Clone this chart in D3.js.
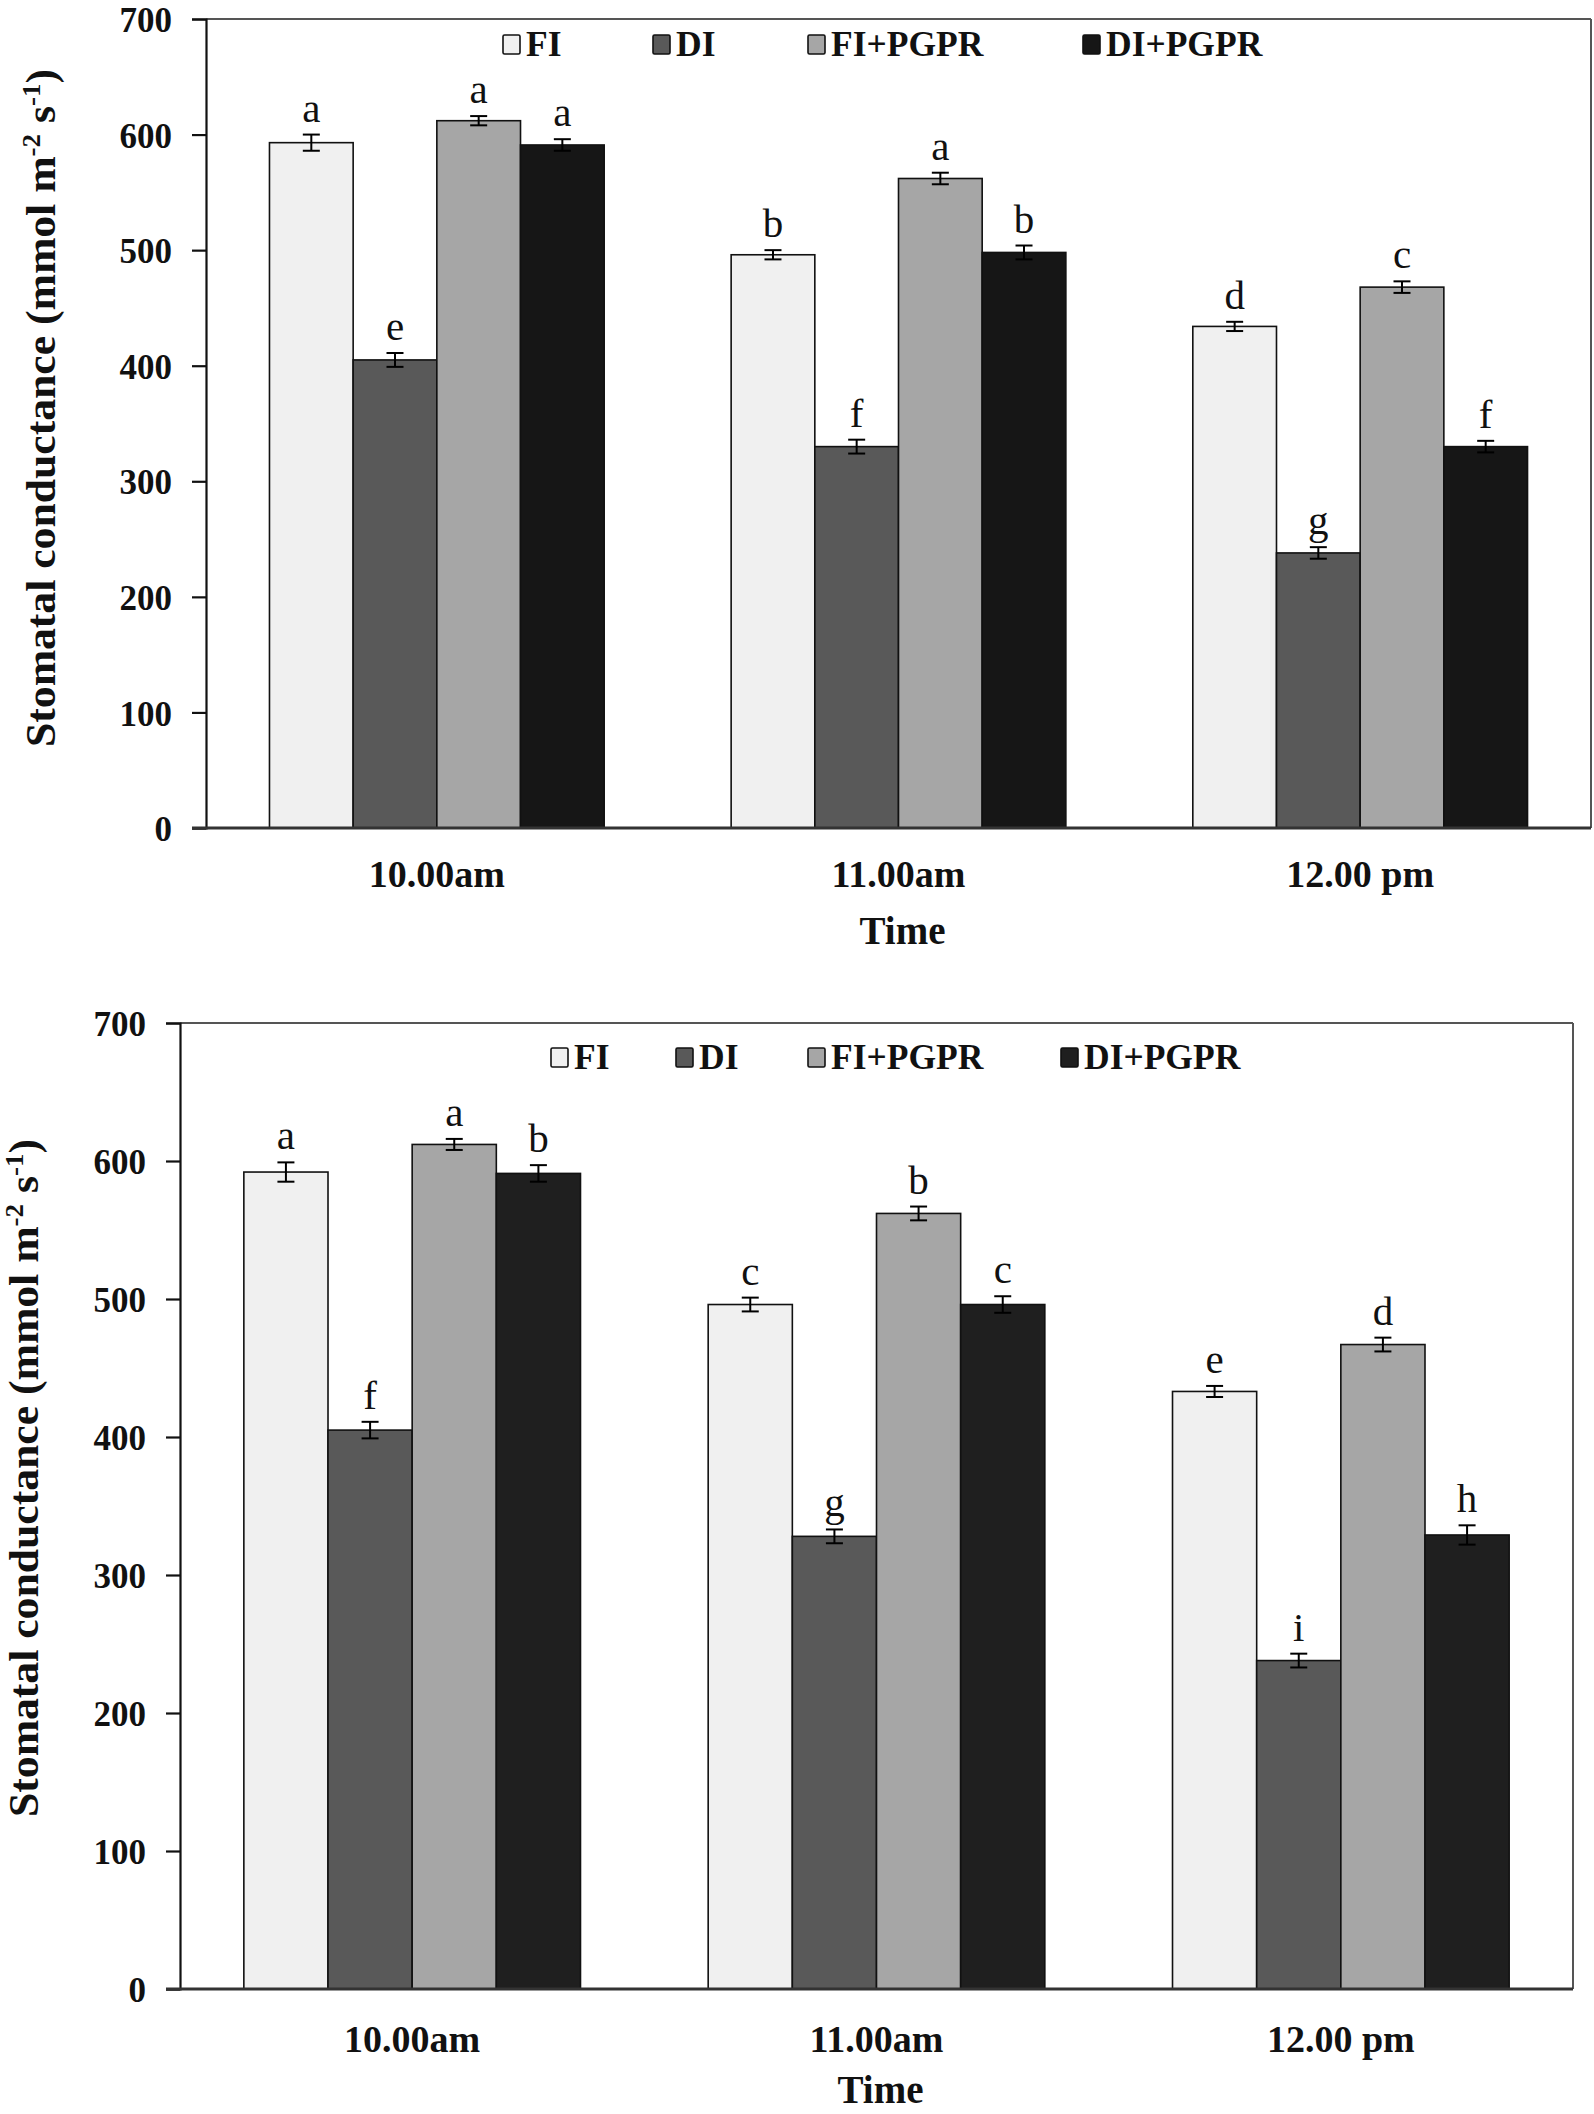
<!DOCTYPE html>
<html>
<head>
<meta charset="utf-8">
<script src="https://cdn.jsdelivr.net/npm/d3@7/dist/d3.min.js"></script>
<style>
  html, body { margin: 0; padding: 0; background: #fff; }
  svg { display: block; }
</style>
</head>
<body>
<svg id="chart" width="1594" height="2114"></svg>
<script>
// ---------- DATA ----------
const categories = ["10.00am", "11.00am", "12.00 pm"];
const seriesNames = ["FI", "DI", "FI+PGPR", "DI+PGPR"];
const yTicks = [0, 100, 200, 300, 400, 500, 600, 700];
const xTitle = "Time";

// Top panel values (per series, in category order)
const topFI      = [593, 496, 434];
const topDI      = [405, 330, 238];
const topFIPGPR  = [612, 562, 468];
const topDIPGPR  = [591, 498, 330];
const topErrFI     = [7, 4, 4];
const topErrDI     = [6, 6, 5];
const topErrFIPGPR = [4, 5, 5];
const topErrDIPGPR = [5, 6, 5];
const topLetters = [["a", "b", "d"], ["e", "f", "g"], ["a", "a", "c"], ["a", "b", "f"]];

// Bottom panel values
const botFI      = [592, 496, 433];
const botDI      = [405, 328, 238];
const botFIPGPR  = [612, 562, 467];
const botDIPGPR  = [591, 496, 329];
const botErrFI     = [7, 5, 4];
const botErrDI     = [6, 5, 5];
const botErrFIPGPR = [4, 5, 5];
const botErrDIPGPR = [6, 6, 7];
const botLetters = [["a", "c", "e"], ["f", "g", "i"], ["a", "b", "d"], ["b", "c", "h"]];

// ---------- STYLE / LAYOUT ----------
const FONT = "'Liberation Serif', 'Times New Roman', Times, serif";
const panels = [
  {
    values: [topFI, topDI, topFIPGPR, topDIPGPR],
    errors: [topErrFI, topErrDI, topErrFIPGPR, topErrDIPGPR],
    letters: topLetters,
    colors: ["#f0f0f0", "#595959", "#a6a6a6", "#161616"],
    left: 206, right: 1591, top: 19, bottom: 828,
    legendX: [503, 653, 808, 1083], legendBoxTop: 35,
    catBaseline: 887, timeBaseline: 944,
    titleX: 55, titleCenterY: 408
  },
  {
    values: [botFI, botDI, botFIPGPR, botDIPGPR],
    errors: [botErrFI, botErrDI, botErrFIPGPR, botErrDIPGPR],
    letters: botLetters,
    colors: ["#f0f0f0", "#595959", "#a6a6a6", "#1f1f1f"],
    left: 180, right: 1573, top: 1023, bottom: 1989,
    legendX: [551, 676, 808, 1061], legendBoxTop: 1048,
    catBaseline: 2052, timeBaseline: 2103,
    titleX: 38, titleCenterY: 1478
  }
];

const svg = d3.select("#chart");

panels.forEach(p => {
  const g = svg.append("g");

  const y = d3.scaleLinear().domain([0, 700]).range([p.bottom, p.top]);
  const x0 = d3.scaleBand().domain(categories).range([p.left, p.right])
    .paddingInner(0.275).paddingOuter(0.1375);
  const x1 = d3.scaleBand().domain(seriesNames).range([0, x0.bandwidth()]).padding(0);

  // frame top and right
  g.append("line").attr("x1", p.left).attr("x2", p.right).attr("y1", p.top).attr("y2", p.top)
    .attr("stroke", "#555").attr("stroke-width", 2);
  g.append("line").attr("x1", p.right).attr("x2", p.right).attr("y1", p.top).attr("y2", p.bottom)
    .attr("stroke", "#555").attr("stroke-width", 2);

  // bars
  seriesNames.forEach((s, si) => {
    categories.forEach((c, ci) => {
      const v = p.values[si][ci];
      const e = p.errors[si][ci];
      const bx = x0(c) + x1(s);
      const bw = x1.bandwidth();
      g.append("rect")
        .attr("x", bx).attr("y", y(v))
        .attr("width", bw).attr("height", y(0) - y(v))
        .attr("fill", p.colors[si]).attr("stroke", "#111").attr("stroke-width", 1.6);
      const cx = bx + bw / 2;
      const cap = 8.5;
      g.append("line").attr("x1", cx).attr("x2", cx).attr("y1", y(v + e)).attr("y2", y(v - e))
        .attr("stroke", "#000").attr("stroke-width", 2);
      g.append("line").attr("x1", cx - cap).attr("x2", cx + cap).attr("y1", y(v + e)).attr("y2", y(v + e))
        .attr("stroke", "#000").attr("stroke-width", 2);
      g.append("line").attr("x1", cx - cap).attr("x2", cx + cap).attr("y1", y(v - e)).attr("y2", y(v - e))
        .attr("stroke", "#000").attr("stroke-width", 2);
      g.append("text")
        .attr("x", cx).attr("y", y(v + e) - 13)
        .attr("text-anchor", "middle")
        .attr("font-family", FONT).attr("font-size", 41).attr("fill", "#111")
        .text(p.letters[si][ci]);
    });
  });

  // y axis
  const yAxis = d3.axisLeft(y).tickValues(yTicks).tickSize(14).tickPadding(20).tickFormat(d3.format("d"));
  const ya = g.append("g").attr("transform", `translate(${p.left},0)`).call(yAxis);
  ya.select(".domain").attr("stroke", "#111").attr("stroke-width", 2.2);
  ya.selectAll(".tick line").attr("stroke", "#111").attr("stroke-width", 2.2);
  ya.selectAll(".tick text").attr("font-family", FONT).attr("font-size", 35)
    .attr("font-weight", "bold").attr("fill", "#111").attr("dy", "0.36em");

  // x axis baseline
  const xa = d3.axisBottom(x0).tickSize(0).tickPadding(0);
  const xg = g.append("g").attr("transform", `translate(0,${p.bottom})`).call(xa);
  xg.select(".domain").attr("stroke", "#333").attr("stroke-width", 3)
    .attr("d", `M${p.left - 14},0H${p.right}`);
  xg.selectAll(".tick text").attr("font-family", FONT).attr("font-size", 38)
    .attr("font-weight", "bold").attr("fill", "#111")
    .attr("dy", null).attr("y", p.catBaseline - p.bottom);

  // x title
  g.append("text").attr("x", (p.left + p.right) / 2 + 4).attr("y", p.timeBaseline)
    .attr("text-anchor", "middle").attr("font-family", FONT).attr("font-size", 39)
    .attr("font-weight", "bold").attr("fill", "#111").text(xTitle);

  // y title
  const yt = g.append("text")
    .attr("transform", `translate(${p.titleX},${p.titleCenterY}) rotate(-90) scale(1.04,1)`)
    .attr("text-anchor", "middle").attr("font-family", FONT).attr("font-size", 42)
    .attr("font-weight", "bold").attr("fill", "#111");
  yt.append("tspan").text("Stomatal conductance (mmol m");
  yt.append("tspan").attr("dy", -15).attr("font-size", 26).text("-2");
  yt.append("tspan").attr("dy", 15).text(" s");
  yt.append("tspan").attr("dy", -15).attr("font-size", 26).text("-1");
  yt.append("tspan").attr("dy", 15).text(")");

  // legend
  const lg = g.append("g");
  seriesNames.forEach((s, si) => {
    lg.append("rect").attr("x", p.legendX[si]).attr("y", p.legendBoxTop)
      .attr("width", 17).attr("height", 19).attr("rx", 1.5)
      .attr("fill", p.colors[si]).attr("stroke", "#111").attr("stroke-width", 1.6);
    lg.append("text").attr("x", p.legendX[si] + 23).attr("y", p.legendBoxTop + 21)
      .attr("font-family", FONT).attr("font-size", 35.5).attr("font-weight", "bold")
      .attr("fill", "#111").text(s);
  });
});
</script>
</body>
</html>
